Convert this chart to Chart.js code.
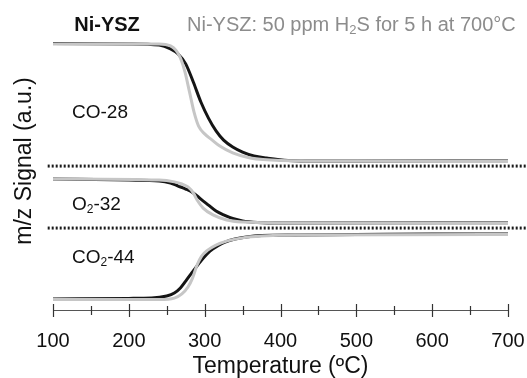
<!DOCTYPE html>
<html>
<head>
<meta charset="utf-8">
<script src="https://cdn.jsdelivr.net/npm/chart.js@4"></script>
<style>
  html, body { margin: 0; padding: 0; background: #fff; }
  #wrap { width: 527px; height: 378px; position: relative; }
</style>
</head>
<body>
<div id="wrap"><canvas id="tpoChart"></canvas></div>
<script>
// temperatures (°C) and m/z signal (a.u., stacked traces)
const coTempsBlack = [100, 200, 240, 255, 265, 275, 285, 295, 305, 315, 325, 337, 350, 365, 382, 410, 450, 500, 600, 700];
const coBlack      = [89.4, 89.3, 88.9, 87.6, 85.9, 82.6, 76.5, 69.8, 64.4, 60.1, 57.0, 54.7, 53.0, 51.7, 51.0, 50.2, 50.0, 50.0, 50.0, 50.0];
const coTempsGray  = [100, 240, 255, 262, 268, 274, 280, 286, 292, 300, 310, 320, 337, 360, 400, 500, 700];
const coGray       = [89.3, 89.3, 88.6, 87.2, 84.6, 79.9, 73.2, 66.4, 61.7, 59.1, 57.0, 55.0, 52.7, 51.0, 50.2, 50.0, 49.8];

const o2TempsBlack = [100, 200, 240, 255, 265, 275, 285, 295, 305, 315, 325, 337, 350, 370, 400, 700];
const o2Black      = [44.0, 43.6, 43.3, 42.6, 41.6, 40.6, 39.3, 37.2, 35.2, 33.2, 31.9, 30.7, 29.9, 29.4, 29.2, 29.2];
const o2TempsGray  = [100, 240, 260, 270, 278, 285, 290, 298, 311, 329, 351, 400, 700];
const o2Gray       = [44.0, 43.6, 43.0, 42.3, 41.3, 39.3, 36.9, 34.2, 31.9, 30.2, 29.5, 29.2, 29.0];

const co2TempsBlack = [100, 200, 230, 250, 260, 268, 275, 282, 290, 298, 307, 317, 327, 340, 355, 375, 420, 500, 600, 700];
const co2Black      = [3.7, 3.9, 4.0, 4.7, 5.7, 7.4, 9.7, 12.1, 14.8, 17.4, 19.8, 21.5, 22.8, 23.8, 24.5, 25.0, 25.2, 25.3, 25.5, 25.5];
const co2TempsGray  = [100, 240, 260, 270, 278, 284, 290, 296, 304, 315, 330, 350, 375, 420, 700];
const co2Gray       = [3.5, 3.5, 4.0, 5.4, 7.7, 10.7, 15.1, 18.1, 20.1, 21.8, 23.2, 24.2, 24.8, 25.2, 25.3];

// dotted separators between traces
const separatorLevels = [48.3, 27.5];
const separatorSpan = [93, 730];

const xTicks = [100, 200, 300, 400, 500, 600, 700];

const FONT = "'Liberation Sans', Arial, sans-serif";

function pts(xs, ys) {
    return xs.map((x, i) => ({ x: x, y: ys[i] }));
}

function trace(label, xs, ys, color) {
    return {
        label: label,
        data: pts(xs, ys),
        borderColor: color,
        borderWidth: 3,
        pointRadius: 0,
        cubicInterpolationMode: 'monotone',
        fill: false
    };
}

const datasets = [
    trace('CO-28 ref', coTempsGray, coGray, '#c6c6c6'),
    trace('O2-32 ref', o2TempsGray, o2Gray, '#c6c6c6'),
    trace('CO2-44 ref', co2TempsGray, co2Gray, '#c6c6c6'),
    trace('CO-28', coTempsBlack, coBlack, '#151515'),
    trace('O2-32', o2TempsBlack, o2Black, '#151515'),
    trace('CO2-44', co2TempsBlack, co2Black, '#151515')
];
separatorLevels.forEach(function (lv) {
    datasets.push({
        label: 'sep',
        data: separatorSpan.map(x => ({ x: x, y: lv })),
        borderColor: '#1a1a1a',
        borderWidth: 3,
        borderDash: [2, 2],
        pointRadius: 0,
        clip: false
    });
});

// tick marks crossing the axis + in-plot labels
const decorPlugin = {
    id: 'decor',
    afterDraw(chart) {
        const ctx = chart.ctx;
        const xs = chart.scales.x;
        const yAxis = chart.chartArea.bottom;
        ctx.save();
        ctx.strokeStyle = '#333';
        ctx.lineWidth = 1.2;
        xs.ticks.forEach(function (t) {
            const px = Math.round(xs.getPixelForValue(t.value)) + 0.5;
            const major = t.value % 100 === 0;
            ctx.beginPath();
            ctx.moveTo(px, yAxis - (major ? 6 : 4));
            ctx.lineTo(px, yAxis + (major ? 7 : 5));
            ctx.stroke();
        });

        ctx.textBaseline = 'middle';
        ctx.fillStyle = '#111';
        ctx.font = 'bold 20px ' + FONT;
        ctx.textAlign = 'center';
        ctx.fillText('Ni-YSZ', 107, 25);

        // gray header with subscript
        ctx.textAlign = 'left';
        ctx.fillStyle = '#8c8c8c';
        let x = 187;
        const parts = [['Ni-YSZ: 50 ppm H', 20, 0], ['2', 13, 5], ['S for 5 h at 700°C', 20, 0]];
        parts.forEach(function (p) {
            ctx.font = p[1] + 'px ' + FONT;
            ctx.fillText(p[0], x, 25 + p[2]);
            x += ctx.measureText(p[0]).width;
        });

        ctx.fillStyle = '#111';
        const labels = [
            [['CO-28', 19, 0]],
            [['O', 19, 0], ['2', 12, 5], ['-32', 19, 0]],
            [['CO', 19, 0], ['2', 12, 5], ['-44', 19, 0]]
        ];
        const labelY = [113, 205, 258];
        labels.forEach(function (lab, i) {
            let lx = 72;
            lab.forEach(function (p) {
                ctx.font = p[1] + 'px ' + FONT;
                ctx.fillText(p[0], lx, labelY[i] + p[2]);
                lx += ctx.measureText(p[0]).width;
            });
        });
        ctx.restore();
    }
};

const tpoChartCtx = document.getElementById('tpoChart').getContext('2d');
const tpoChart = new Chart(tpoChartCtx, {
    type: 'line',
    data: { datasets: datasets },
    options: {
        responsive: true,
        maintainAspectRatio: false,
        animation: false,
        layout: {
            padding: { top: 12, right: 19, left: 0, bottom: 0 }
        },
        plugins: {
            legend: { display: false },
            tooltip: { enabled: false }
        },
        scales: {
            x: {
                type: 'linear',
                min: 100,
                max: 700,
                border: { display: true, color: '#555', width: 1 },
                grid: { drawOnChartArea: false, tickLength: 25, tickColor: 'rgba(0,0,0,0)' },
                ticks: {
                    stepSize: 50,
                    padding: 0,
                    maxRotation: 0,
                    autoSkip: false,
                    color: '#111',
                    font: { family: FONT, size: 20, lineHeight: 0.6 },
                    callback: function (v) {
                        return xTicks.includes(v) ? String(v) : '';
                    }
                },
                title: {
                    display: true,
                    text: 'Temperature (ºC)',
                    color: '#111',
                    font: { family: FONT, size: 23, lineHeight: 1 },
                    padding: { top: 8, bottom: 0 }
                }
            },
            y: {
                min: 0,
                max: 100,
                border: { display: false },
                grid: { display: false, drawTicks: false },
                ticks: { display: false },
                title: {
                    display: true,
                    text: 'm/z Signal (a.u.)',
                    color: '#111',
                    font: { family: FONT, size: 23, lineHeight: 1 },
                    padding: { top: 13.5, bottom: 16.5 }
                }
            }
        }
    },
    plugins: [decorPlugin]
});
</script>
</body>
</html>
